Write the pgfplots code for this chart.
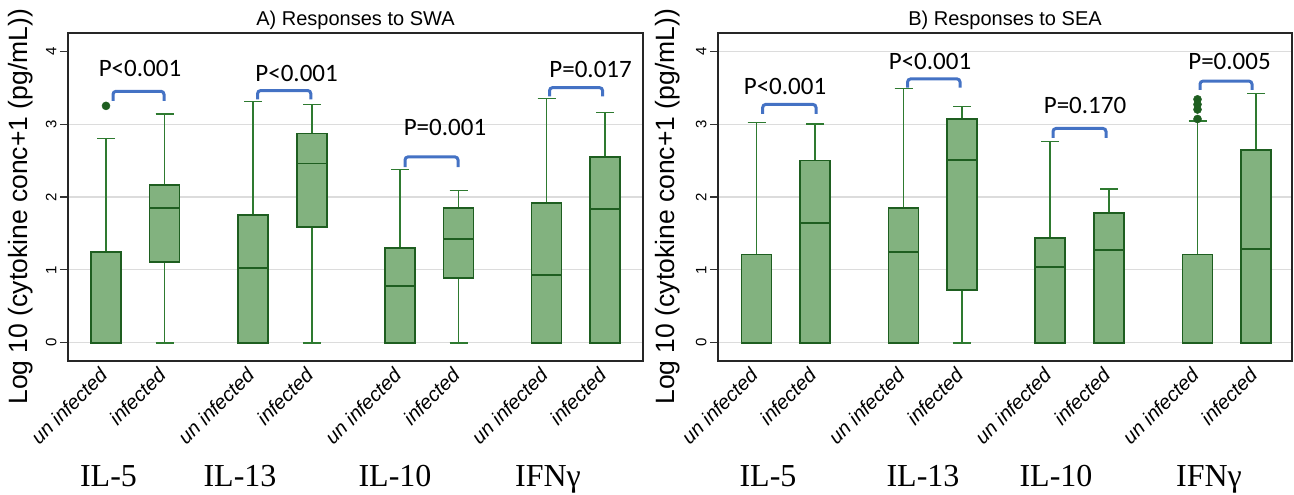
\documentclass[border=0pt]{standalone}
\usepackage{fontspec}
\setmainfont{Liberation Sans}
\newfontfamily\pfont{Carlito}
\newfontfamily\gfont{Liberation Serif}
\usepackage{pgfplots}
\pgfplotsset{compat=1.18}
\usepgfplotslibrary{statistics}
\definecolor{boxfill}{HTML}{82B27F}
\definecolor{boxdark}{HTML}{1E5E20}
\definecolor{whisk}{HTML}{2E7A30}
\definecolor{brblue}{HTML}{4472C4}
\definecolor{gridg}{HTML}{DCDCDC}
\newcommand{\fs}[1]{\fontsize{#1}{#1}\selectfont}

\tikzset{
  br/.style={brblue, line width=3pt, rounded corners=3pt},
  pv/.style={anchor=base, font=\pfont\fs{25}},
  gl/.style={anchor=base, font=\gfont\fs{32}},
}
% x positions are in units of 10 px of the original figure
\pgfplotsset{
  panel/.style={
    scale only axis, height=328pt, anchor=south west,
    ymin=-0.25, ymax=4.25,
    ymajorgrids, grid style={gridg, line width=1.2pt},
    axis line style={line width=1.4pt, black!85},
    tick align=outside, major tick length=8pt, ytick pos=left,
    xtick style={draw=none}, ytick style={line width=1.2pt, black!80},
    yticklabel style={rotate=90, anchor=south, font=\fs{15}},
    xticklabel style={rotate=45, anchor=east, font=\fs{20}\itshape},
    xticklabels={un infected,infected,un infected,infected,un infected,infected,un infected,infected},
    /pgf/number format/assume math mode=true,
    every axis title/.style={font=\fs{20}, at={(0.5,1)}, anchor=base, yshift=7pt},
    clip=false,
  },
  bp/.style={mark=*, mark size=4pt, mark options={fill=boxdark, draw=boxdark, line width=0.5pt},
    fill=boxfill, draw=boxdark, line width=1.7pt},
  boxplot/draw direction=y,
  boxplot/every box/.style={draw=boxdark, fill=boxfill, line width=1.8pt},
  boxplot/every whisker/.style={draw=whisk, line width=1.5pt},
  boxplot/every median/.style={draw=boxdark, line width=1.8pt},
  boxplot/box extend=3.0, boxplot/whisker extend=1.8,
}

\begin{document}
\begin{tikzpicture}
\useasboundingbox (0,0) rectangle (1294pt,495pt);

% A) SWA
\begin{axis}[panel, at={(68pt,134pt)}, width=575pt,
  xmin=6.8, xmax=64.3,
  xtick={10.6,16.45,25.3,31.2,40.0,45.85,54.65,60.5},
  ytick={0,1,2,3}, extra y ticks={4}, extra y tick style={grid=none},
  title={A) Responses to SWA},
  ylabel={Log 10 (cytokine conc+1 (pg/mL))},
  ylabel style={font=\fs{26.5}, at={(axis description cs:-0.083,0.47)}, anchor=center},
]
\addplot[bp, boxplot prepared={lower whisker=0, lower quartile=0, median=0, upper quartile=1.24, upper whisker=2.80, draw position=10.6}] table[row sep=\\, y index=0] {3.25\\};
\addplot[bp, boxplot prepared={lower whisker=0, lower quartile=1.11, median=1.85, upper quartile=2.17, upper whisker=3.14, draw position=16.45}] coordinates {};
\addplot[bp, boxplot prepared={lower whisker=0, lower quartile=0, median=1.03, upper quartile=1.75, upper whisker=3.31, draw position=25.3}] coordinates {};
\addplot[bp, boxplot prepared={lower whisker=0, lower quartile=1.59, median=2.46, upper quartile=2.87, upper whisker=3.27, draw position=31.2}] coordinates {};
\addplot[bp, boxplot prepared={lower whisker=0, lower quartile=0, median=0.78, upper quartile=1.30, upper whisker=2.38, draw position=40.0}] coordinates {};
\addplot[bp, boxplot prepared={lower whisker=0, lower quartile=0.89, median=1.42, upper quartile=1.85, upper whisker=2.09, draw position=45.85}] coordinates {};
\addplot[bp, boxplot prepared={lower whisker=0, lower quartile=0, median=0.93, upper quartile=1.92, upper whisker=3.35, draw position=54.65}] coordinates {};
\addplot[bp, boxplot prepared={lower whisker=0, lower quartile=0, median=1.83, upper quartile=2.55, upper whisker=3.16, draw position=60.5}] coordinates {};
% brackets
\addplot[br] coordinates {(11.3,3.32) (11.3,3.45) (16.4,3.45) (16.4,3.32)};
\addplot[br] coordinates {(25.76,3.34) (25.76,3.46) (31.08,3.46) (31.08,3.34)};
\addplot[br] coordinates {(40.5,2.41) (40.5,2.55) (45.8,2.55) (45.8,2.41)};
\addplot[br] coordinates {(54.95,3.38) (54.95,3.50) (60.26,3.50) (60.26,3.38)};
\node[pv] at (axis cs:14.0,3.66) {P<0.001};
\node[pv] at (axis cs:29.66,3.59) {P<0.001};
\node[pv] at (axis cs:44.5,2.84) {P=0.001};
\node[pv] at (axis cs:59.06,3.645) {P=0.017};
\node[gl] at (axis cs:10.85,-1.965) {IL-5};
\node[gl] at (axis cs:24.0,-1.965) {IL-13};
\node[gl] at (axis cs:39.5,-1.965) {IL-10};
\node[gl] at (axis cs:54.8,-1.965) {IFNγ};
\end{axis}

% B) SEA
\begin{axis}[panel, at={(718pt,134pt)}, width=574pt,
  xmin=71.8, xmax=129.2,
  xtick={75.65,81.5,90.35,96.2,105.0,110.9,119.75,125.6},
  ytick={0,1,2,3,4},
  title={B) Responses to SEA},
  ylabel={Log 10 (cytokine conc+1 (pg/mL))},
  ylabel style={font=\fs{26.5}, at={(axis description cs:-0.087,0.47)}, anchor=center},
]
\addplot[bp, boxplot prepared={lower whisker=0, lower quartile=0, median=0, upper quartile=1.21, upper whisker=3.02, draw position=75.65}] coordinates {};
\addplot[bp, boxplot prepared={lower whisker=0, lower quartile=0, median=1.64, upper quartile=2.50, upper whisker=3.00, draw position=81.5}] coordinates {};
\addplot[bp, boxplot prepared={lower whisker=0, lower quartile=0, median=1.24, upper quartile=1.85, upper whisker=3.49, draw position=90.35}] coordinates {};
\addplot[bp, boxplot prepared={lower whisker=0, lower quartile=0.72, median=2.51, upper quartile=3.07, upper whisker=3.24, draw position=96.2}] coordinates {};
\addplot[bp, boxplot prepared={lower whisker=0, lower quartile=0, median=1.04, upper quartile=1.44, upper whisker=2.76, draw position=105.0}] coordinates {};
\addplot[bp, boxplot prepared={lower whisker=0, lower quartile=0, median=1.27, upper quartile=1.78, upper whisker=2.11, draw position=110.9}] coordinates {};
\addplot[bp, boxplot prepared={lower whisker=0, lower quartile=0, median=0, upper quartile=1.21, upper whisker=3.04, draw position=119.75}] table[row sep=\\, y index=0] {3.07\\3.20\\3.27\\3.34\\};
\addplot[bp, boxplot prepared={lower whisker=0, lower quartile=0, median=1.29, upper quartile=2.64, upper whisker=3.42, draw position=125.6}] coordinates {};
% brackets
\addplot[br] coordinates {(76.27,3.14) (76.27,3.27) (81.6,3.27) (81.6,3.14)};
\addplot[br] coordinates {(90.76,3.50) (90.76,3.62) (96.0,3.62) (96.0,3.50)};
\addplot[br] coordinates {(105.3,2.81) (105.3,2.94) (110.6,2.94) (110.6,2.81)};
\addplot[br] coordinates {(120.0,3.47) (120.0,3.59) (125.2,3.59) (125.2,3.47)};
\node[pv] at (axis cs:78.5,3.41) {P<0.001};
\node[pv] at (axis cs:93.0,3.745) {P<0.001};
\node[pv] at (axis cs:108.5,3.145) {P=0.170};
\node[pv] at (axis cs:122.95,3.745) {P=0.005};
\node[gl] at (axis cs:76.8,-1.965) {IL-5};
\node[gl] at (axis cs:92.3,-1.965) {IL-13};
\node[gl] at (axis cs:105.6,-1.965) {IL-10};
\node[gl] at (axis cs:120.9,-1.965) {IFNγ};
\end{axis}
\end{tikzpicture}
\end{document}
